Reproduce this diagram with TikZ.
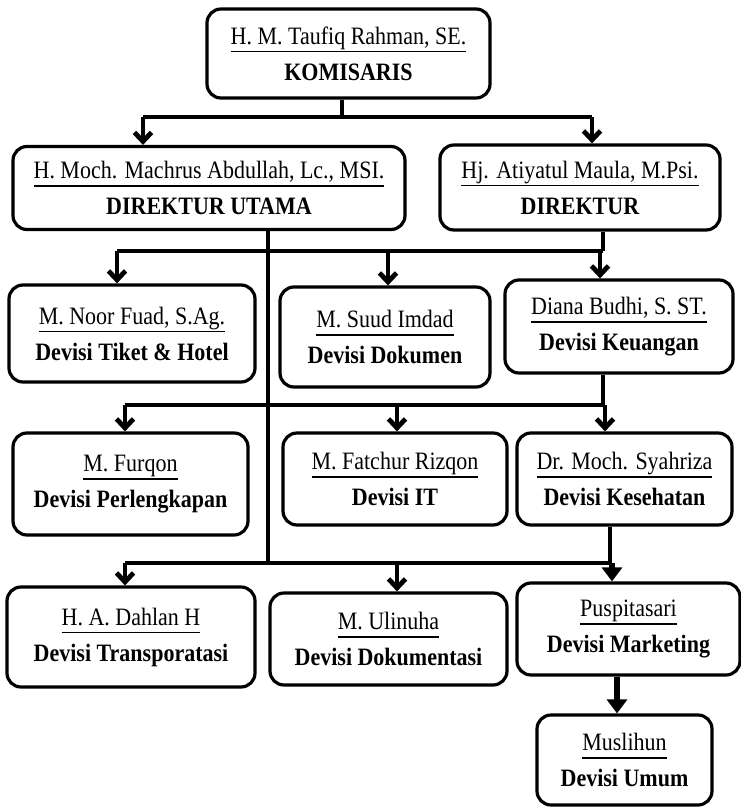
\documentclass[tikz,border=0pt]{standalone}
\usepackage{fontspec}
\setmainfont{Liberation Serif}[FakeStretch=0.88]
\usepackage{tikz}
\usetikzlibrary{arrows.meta}
\newcommand{\garis}[1]{\vtop{\hbox{\vphantom{y}#1}\kern1.5pt\hrule height 1.3pt}}
\newcommand{\staf}[2]{\garis{#1}\\\textbf{#2}}

\begin{document}
\begin{tikzpicture}[x=1pt, y=-1pt,
		unit/.style={draw, rounded corners=14pt, line width=3.2pt, align=center, inner sep=2pt, font=\fontsize{25}{36}\selectfont},
		link/.style={line width=4.8pt},
		arr/.style={line width=4.8pt, -{Straight Barb[length=9pt, width=17pt]}},
		arrbold/.style={line width=6.5pt, -{Triangle[length=14pt, width=20pt]}}
		]
		\useasboundingbox (0,0) rectangle (741,808);
		
		% bus levels
		\coordinate (b0) at (0,117);
		\coordinate (b1) at (0,251);
		\coordinate (b2) at (0,405);
		\coordinate (b3) at (0,563);
		
		% Komisaris
		\node[unit, minimum width=283pt, minimum height=89pt] (kom) at (348.5,53.5) {\staf{H. M. Taufiq Rahman, SE.}{KOMISARIS}};
		
		% Direksi
		\node[unit, minimum width=392pt, minimum height=83pt] (dirut) at (209,188) {\staf{H. Moch. Machrus Abdullah, Lc., MSI.}{DIREKTUR UTAMA}};
		\node[unit, minimum width=280pt, minimum height=85pt] (dir) at (580,187.5) {\staf{Hj. Atiyatul Maula, M.Psi.}{DIREKTUR}};
		
		% Devisi, baris 1
		\node[unit, minimum width=246pt, minimum height=97pt] (tiket) at (132,333.5) {\staf{M. Noor Fuad, S.Ag.}{Devisi Tiket \& Hotel}};
		\node[unit, minimum width=210pt, minimum height=100pt] (dok) at (385,337) {\staf{M. Suud Imdad}{Devisi Dokumen}};
		\node[unit, minimum width=228pt, minimum height=93pt] (keu) at (619,326.5) {\staf{Diana Budhi, S. ST.}{Devisi Keuangan}};
		
		% Devisi, baris 2
		\node[unit, minimum width=235pt, minimum height=102pt] (perl) at (130.5,484) {\staf{M. Furqon}{Devisi Perlengkapan}};
		\node[unit, minimum width=224pt, minimum height=92pt] (it) at (395,479) {\staf{M. Fatchur Rizqon}{Devisi IT}};
		\node[unit, minimum width=215pt, minimum height=92pt] (kes) at (624.5,479) {\staf{Dr. Moch. Syahriza}{Devisi Kesehatan}};
		
		% Devisi, baris 3
		\node[unit, minimum width=248pt, minimum height=100pt] (trans) at (131,637) {\staf{H. A. Dahlan H}{Devisi Transporatasi}};
		\node[unit, minimum width=237pt, minimum height=92pt] (dokum) at (388.5,639) {\staf{M. Ulinuha}{Devisi Dokumentasi}};
		\node[unit, minimum width=223pt, minimum height=92pt] (mkt) at (628.5,629) {\staf{Puspitasari}{Devisi Marketing}};
		
		% Umum
		\node[unit, minimum width=175pt, minimum height=90pt] (umum) at (624.5,760) {\staf{Muslihun}{Devisi Umum}};
		
		% Komisaris -> Direksi
		\draw[link] ([xshift=-6.5pt]kom.south) -- ([xshift=-6.5pt]kom.south |- b0);
		\draw[link] ([xshift=-66pt]dirut.north |- b0) -- ([xshift=12pt]dir.north |- b0);
		\draw[arr] ([xshift=-66pt]dirut.north |- b0) -- ([xshift=-66pt]dirut.north);
		\draw[arr] ([xshift=12pt]dir.north |- b0) -- ([xshift=12pt]dir.north);
		
		% garis utama dari Direktur Utama
		\draw[link] ([xshift=59pt]dirut.south) -- ([xshift=59pt]dirut.south |- b3);
		
		% Direktur -> baris 1
		\draw[link] ([xshift=23pt]dir.south) -- ([xshift=23pt]dir.south |- b1);
		\draw[link] ([xshift=-15pt]tiket.north |- b1) -- ([xshift=23pt]dir.south |- b1);
		\draw[arr] ([xshift=-15pt]tiket.north |- b1) -- ([xshift=-15pt]tiket.north);
		\draw[arr] ([xshift=3pt]dok.north |- b1) -- ([xshift=3pt]dok.north);
		\draw[arr] ([xshift=-19pt]keu.north |- b1) -- ([xshift=-19pt]keu.north);
		
		% Keuangan -> baris 2
		\draw[link] ([xshift=-16pt]keu.south) -- ([xshift=-16pt]keu.south |- b2);
		\draw[link] ([xshift=-5.5pt]perl.north |- b2) -- ([xshift=-16pt]keu.south |- b2);
		\draw[arr] ([xshift=-5.5pt]perl.north |- b2) -- ([xshift=-5.5pt]perl.north);
		\draw[arr] ([xshift=2pt]it.north |- b2) -- ([xshift=2pt]it.north);
		\draw[arr] ([xshift=-19.5pt]kes.north |- b2) -- ([xshift=-19.5pt]kes.north);
		
		% Kesehatan -> baris 3
		\draw[link] ([xshift=-14.5pt]kes.south) -- ([xshift=-14.5pt]kes.south |- b3);
		\draw[link] ([xshift=-6pt]trans.north |- b3) -- ([xshift=-14.5pt]kes.south |- b3);
		\draw[arr] ([xshift=-6pt]trans.north |- b3) -- ([xshift=-6pt]trans.north);
		\draw[arr] ([xshift=8.5pt]dokum.north |- b3) -- ([xshift=8.5pt]dokum.north);
		\draw[arrbold] ([xshift=-16.5pt]mkt.north |- b3) -- ([xshift=-16.5pt]mkt.north);
		
		% Marketing -> Umum
		\draw[arrbold] ([xshift=-7.5pt]umum.north |- mkt.south) -- ([xshift=-7.5pt]umum.north);
		
	\end{tikzpicture}
\end{document}
